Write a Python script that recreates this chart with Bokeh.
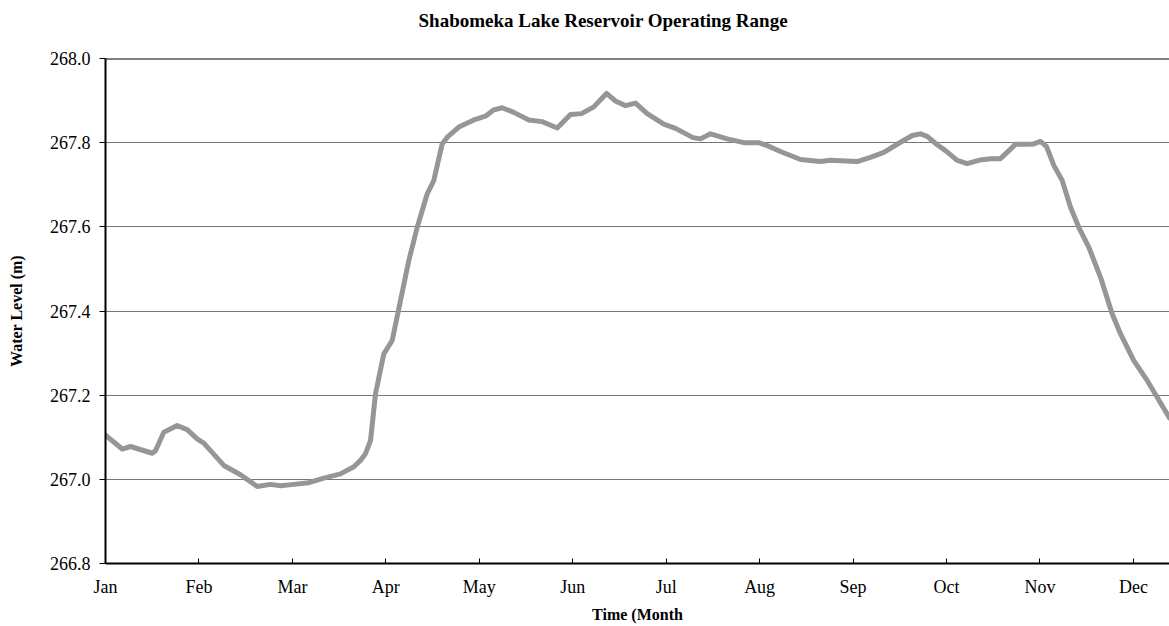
from bokeh.plotting import figure
from bokeh.models import Range1d, FixedTicker, Span, Title
from bokeh.embed import file_html
from bokeh.resources import INLINE

# ---- data -------------------------------------------------------------
month_names = ["Jan", "Feb", "Mar", "Apr", "May", "Jun",
               "Jul", "Aug", "Sep", "Oct", "Nov", "Dec"]
# time expressed in months since 1 Jan (0 = Jan, 1 = Feb, ...)
time_month = [0.000, 0.179, 0.268, 0.500, 0.535, 0.624, 0.767, 0.874, 0.981, 1.052,
              1.266, 1.445, 1.623, 1.766, 1.873, 2.015, 2.175, 2.336, 2.515, 2.657,
              2.729, 2.782, 2.836, 2.889, 2.978, 3.068, 3.157, 3.246, 3.336, 3.442,
              3.513, 3.603, 3.657, 3.781, 3.941, 4.066, 4.155, 4.245, 4.369, 4.530,
              4.673, 4.834, 4.976, 5.094, 5.225, 5.361, 5.457, 5.564, 5.672, 5.797,
              5.974, 6.100, 6.287, 6.367, 6.474, 6.653, 6.830, 6.991, 7.081, 7.223,
              7.437, 7.651, 7.758, 8.044, 8.186, 8.329, 8.507, 8.633, 8.721, 8.793,
              8.900, 8.989, 9.114, 9.221, 9.363, 9.470, 9.577, 9.738, 9.863, 9.934,
              10.005, 10.069, 10.148, 10.238, 10.326, 10.415, 10.522, 10.648, 10.773, 10.861,
              11.004, 11.147, 11.254, 11.386]
water_level = [267.105, 267.072, 267.078, 267.062, 267.068, 267.112, 267.128, 267.118, 267.096, 267.086,
               267.033, 267.011, 266.983, 266.988, 266.985, 266.988, 266.992, 267.003, 267.013, 267.030,
               267.045, 267.061, 267.092, 267.203, 267.298, 267.330, 267.425, 267.520, 267.599, 267.678,
               267.710, 267.797, 267.813, 267.837, 267.854, 267.863, 267.878, 267.883, 267.872, 267.854,
               267.850, 267.835, 267.867, 267.869, 267.885, 267.917, 267.899, 267.888, 267.894, 267.869,
               267.844, 267.834, 267.812, 267.809, 267.821, 267.809, 267.800, 267.800, 267.793, 267.779,
               267.760, 267.755, 267.758, 267.755, 267.765, 267.777, 267.801, 267.817, 267.821, 267.815,
               267.795, 267.781, 267.758, 267.750, 267.759, 267.762, 267.762, 267.796, 267.796, 267.797,
               267.803, 267.791, 267.746, 267.710, 267.647, 267.599, 267.552, 267.480, 267.393, 267.346,
               267.282, 267.235, 267.195, 267.146]
y_ticks = [266.8, 267.0, 267.2, 267.4, 267.6, 267.8, 268.0]

title_text = "Shabomeka Lake Reservoir Operating Range"
x_title = "Time (Month"
y_title = "Water Level (m)"

FONT = "Liberation Serif"

# ---- figure -----------------------------------------------------------
p = figure(width=1169, height=626, output_backend="svg", toolbar_location=None,
           title=None,
           x_range=Range1d(0, 11.386), y_range=Range1d(266.8, 268.0))
p.min_border_left = 105
p.min_border_top = 58
p.min_border_bottom = 63
p.min_border_right = 0
p.outline_line_color = None
p.background_fill_color = "white"
p.border_fill_color = "white"

# spacer (closest to frame), then the real title above it
p.add_layout(Title(text=" ", text_font_size="16px", standoff=7), "above")
p.add_layout(Title(text=title_text, align="left", offset=313, standoff=4,
                   text_font=FONT, text_font_size="19px",
                   text_font_style="bold", text_color="black"), "above")

# grid
p.xgrid.visible = False
p.ygrid.ticker = FixedTicker(ticks=y_ticks)
p.ygrid.grid_line_color = "#777777"
p.ygrid.grid_line_width = 1

# top border line
p.add_layout(Span(location=268.0, dimension="width", line_color="black", line_width=2))

# x axis
xa = p.xaxis[0]
xa.ticker = FixedTicker(ticks=list(range(len(month_names))))
xa.major_label_overrides = {i: m for i, m in enumerate(month_names)}
xa.minor_tick_line_color = None
xa.major_tick_in = 5
xa.major_tick_out = 0
xa.major_tick_line_color = "black"
xa.axis_line_color = "black"
xa.axis_line_width = 2
xa.major_label_standoff = 13
xa.major_label_text_font = FONT
xa.major_label_text_font_size = "18px"
xa.major_label_text_color = "black"
xa.axis_label = x_title
xa.axis_label_text_font = FONT
xa.axis_label_text_font_size = "16px"
xa.axis_label_text_font_style = "bold"
xa.axis_label_text_color = "black"
xa.axis_label_standoff = 6

# y axis
ya = p.yaxis[0]
ya.ticker = FixedTicker(ticks=y_ticks)
ya.major_label_overrides = {t: f"{t:.1f}" for t in y_ticks}
ya.minor_tick_line_color = None
ya.major_tick_in = 0
ya.major_tick_out = 6
ya.major_tick_line_color = "black"
ya.axis_line_color = "black"
ya.axis_line_width = 2
ya.major_label_standoff = 9
ya.major_label_text_font = FONT
ya.major_label_text_font_size = "18px"
ya.major_label_text_color = "black"
ya.axis_label = y_title
ya.axis_label_text_font = FONT
ya.axis_label_text_font_size = "16px"
ya.axis_label_text_font_style = "bold"
ya.axis_label_text_color = "black"
ya.axis_label_standoff = 22

# data line
p.line(time_month, water_level, line_color="#969696", line_width=5,
       line_join="round", line_cap="round")

open("out.html", "w").write(file_html(p, INLINE))
